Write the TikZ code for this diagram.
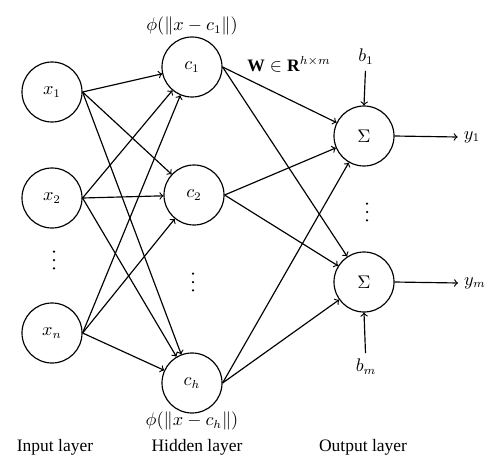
\documentclass[tikz,border=0pt]{standalone}
\usepackage{fontspec}
\setmainfont{Liberation Serif}
\begin{document}
\begin{tikzpicture}[x=0.6pt, y=-0.6pt, line width=0.7pt, font=\fontsize{10.5}{12}\selectfont,
    neuron/.style={draw, circle, minimum size=36pt, inner sep=0pt}]
    \useasboundingbox (0,0) rectangle (500,474);

    \node[neuron] at (52,92)(x1){$x_1$};
    \node[neuron] at (52,198)(x2){$x_2$};
    \coordinate (xdots) at (54,260);
    \node[neuron] at (52,333)(xn){$x_n$};

    \node[neuron] at (192,67)(c1){$c_1$};
    \node[neuron] at (194,195)(c2){$c_2$};
    \coordinate (cdots) at (193,282);
    \node[neuron] at (192,383)(ch){$c_h$};

    \node[neuron] at (364,136)(s1){$\Sigma$};
    \coordinate (sdots) at (367,212);
    \node[neuron] at (364,282)(sm){$\Sigma$};

    % vertical dots
    \foreach \d in {xdots, cdots, sdots}
        \foreach \dy in {-5pt, 0pt, 5pt}
            \fill ([yshift=\dy]\d) circle (0.75pt);

    \node at ([yshift=6pt]c1.north)(phi1){$\phi(\|x-c_1\|)$};
    \node at ([yshift=-4.5pt]ch.south)(phih){$\phi(\|x-c_h\|)$};
    \node at (289,64)(weights){$\mathbf{W}\in\mathbf{R}^{h\times m}$};

    \node at (366,57)(b1){$b_1$};
    \node at (366,367)(bm){$b_m$};
    \node at (472,137)(y1){$y_1$};
    \node at (475,283)(ym){$y_m$};

    \node at (55,447)(inlayer){Input layer};
    \node at (197,447)(hidlayer){Hidden layer};
    \node at (363,447)(outlayer){Output layer};

    \draw[->](x1.east) -- (c1);
    \draw[->](x1.east) -- (c2);
    \draw[->](x1.east) -- (ch);
    \draw[->](x2.east) -- (c1);
    \draw[->](x2.east) -- (c2);
    \draw[->](x2.east) -- (ch);
    \draw[->](xn.east) -- (c1);
    \draw[->](xn.east) -- (c2);
    \draw[->](xn.east) -- (ch);

    \draw[->](c1.east) -- (s1);
    \draw[->](c1.east) -- (sm);
    \draw[->](c2.east) -- (s1);
    \draw[->](c2.east) -- (sm);
    \draw[->](ch.east) -- (s1);
    \draw[->](ch.east) -- (sm);

    \draw[->](b1) -- (s1.north);
    \draw[->](bm) -- (sm.south);
    \draw[->](s1.east) -- (y1.west);
    \draw[->](sm.east) -- (ym.west);
\end{tikzpicture}
\end{document}
